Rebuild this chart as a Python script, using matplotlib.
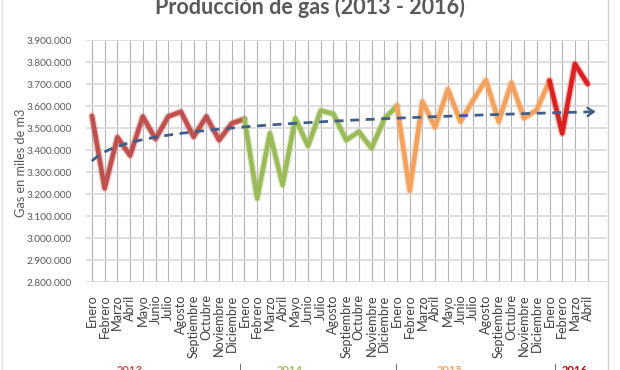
import numpy as np
import matplotlib
matplotlib.use("Agg")
import matplotlib.pyplot as plt
from matplotlib.ticker import FuncFormatter, MultipleLocator
import matplotlib.patheffects as pe
from matplotlib.lines import Line2D

# ---------------- data ----------------
months = ["Enero", "Febrero", "Marzo", "Abril", "Mayo", "Junio", "Julio", "Agosto",
          "Septiembre", "Octubre", "Noviembre", "Diciembre"]
month_labels = months * 3 + months[:4]

gas_2013 = [3555000, 3226000, 3458000, 3375000, 3552000, 3450000, 3552000, 3574000,
            3460000, 3552000, 3445000, 3521000]
gas_2014 = [3541000, 3180000, 3476000, 3241000, 3544000, 3418000, 3579000, 3564000,
            3445000, 3483000, 3408000, 3541000]
gas_2015 = [3601000, 3215000, 3620000, 3503000, 3676000, 3529000, 3627000, 3718000,
            3529000, 3706000, 3544000, 3582000]
gas_2016 = [3715000, 3476000, 3791000, 3700000]

years = ["2013", "2014", "2015", "2016"]
title = "Producción de gas (2013 - 2016)"
ylabel = "Gas en miles de m3"

values = np.array(gas_2013 + gas_2014 + gas_2015 + gas_2016, dtype=float)
x = np.arange(len(values))

# ---------------- style ----------------
plt.rcParams['font.family'] = ['Lato', 'DejaVu Sans']
W, H = 620, 370
fig = plt.figure(figsize=(W / 100, H / 100), dpi=100)
fig.patch.set_facecolor("white")

ax = fig.add_axes([85.6 / W, 1 - 282 / H, (606.7 - 85.6) / W, (282 - 40) / H])
ax.set_xlim(-0.5, 40.5)
ax.set_ylim(2800000, 3900000)

for s in ax.spines.values():
    s.set_visible(False)

ax.yaxis.set_major_locator(MultipleLocator(100000))
ax.yaxis.set_major_formatter(FuncFormatter(lambda v, p: f"{v:,.0f}".replace(",", ".")))
ax.set_xticks(x)
ax.set_xticklabels(month_labels, rotation=90, fontsize=9.1, color="#404040")
ax.tick_params(axis="x", length=0, pad=9)
ax.tick_params(axis="y", length=0, pad=10, labelsize=7.3, labelcolor="#595959")
ax.grid(axis="y", color="#d9d9d9", lw=1.2, zorder=0)
ax.grid(axis="x", color="#b3b3b3", lw=0.8, zorder=0)
ax.set_axisbelow(True)

ax.set_ylabel(ylabel, fontsize=9.2, color="#595959")
ax.yaxis.set_label_coords(-(85.6 - 27) / (606.7 - 85.6), (282 - 163) / (282 - 40))

# ---------------- series ----------------
segments = [
    (0, 12, "#c0504d"),
    (12, 24, "#9bbb59"),
    (24, 36, "#f3a25e"),
    (36, 39, "#dc1f1f"),
]
for a, b, col in segments:
    ax.plot(x[a:b + 1], values[a:b + 1], color=col, lw=3.3, solid_joinstyle="round",
            solid_capstyle="round", zorder=3,
            path_effects=[pe.Stroke(linewidth=5.2, foreground=col, alpha=0.3,
                                    joinstyle="round", capstyle="round"),
                          pe.Normal()])

# logarithmic trendline (least squares on ln(x+1))
b_coef, a_coef = np.polyfit(np.log(x + 1), values, 1)
t = np.linspace(0, 39.6, 300)
trend = a_coef + b_coef * np.log(t + 1)
ax.plot(t, trend, color="#3f5f8a", lw=2.0, ls=(0, (3.2, 2.4)), zorder=4)
ax.annotate("", xy=(39.85, a_coef + b_coef * np.log(40.85)),
            xytext=(39.2, a_coef + b_coef * np.log(40.2)),
            arrowprops=dict(arrowstyle="->,head_length=0.45,head_width=0.3",
                            color="#3f5f8a", lw=1.6), zorder=4)

# ---------------- texts ----------------
fig.text(310 / W, 1 - 14 / H, title, ha="center", va="baseline",
         fontsize=15.5, fontweight="bold", color="#595959")

year_cols = ["#c0504d", "#9bbb59", "#f3a25e", "#c00000"]
year_x = [130, 290, 450, 575]
for yr, xc, col in zip(years, year_x, year_cols):
    fig.text(xc / W, 1 - 365 / H, yr, ha="center", va="top", fontsize=8,
             fontweight="bold", color=col)
for xs in [240, 396, 555]:
    fig.text(xs / W, 1 - 364 / H, "|", ha="center", va="top", fontsize=8, color="#404040")

# chart frame
fig.add_artist(Line2D([608 / W, 608 / W], [0, 1], transform=fig.transFigure,
                      color="#d0d0d0", lw=1))
fig.add_artist(Line2D([2 / W, 2 / W], [0, 1], transform=fig.transFigure,
                      color="#e0e0e0", lw=1))

fig.savefig("out.png", dpi=100, facecolor="white")
